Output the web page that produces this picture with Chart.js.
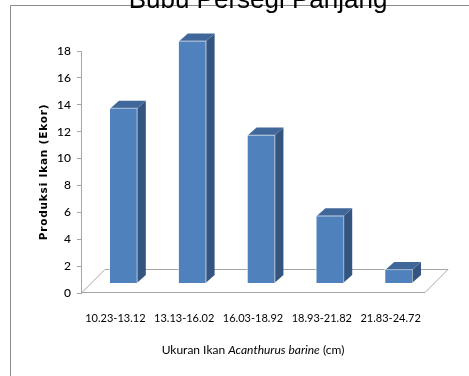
<!DOCTYPE html>
<html>
<head>
<meta charset="utf-8">
<script src="https://cdn.jsdelivr.net/npm/chart.js@4"></script>
<style>
  html, body { margin: 0; padding: 0; background: #fff; }
  #wrap { width: 469px; height: 376px; position: relative; }
</style>
</head>
<body>
<div id="wrap"><canvas id="chart" width="469" height="376"></canvas></div>
<script>
const sizeClasses = ['10.23-13.12', '13.13-16.02', '16.03-18.92', '18.93-21.82', '21.83-24.72'];
const fishCounts = [13, 18, 11, 5, 1];
const yTicks = [0, 2, 4, 6, 8, 10, 12, 14, 16, 18];

const chartTitle = 'Bubu Persegi Panjang';
const yTitle = 'Produksi Ikan (Ekor)';
const xTitleParts = [['Ukuran Ikan ', ''], ['Acanthurus barine', 'italic '], [' (cm)', '']];

// fake 3d look: floor, box bars, titles and frame
const threeD = {
  id: 'threeD',
  beforeDatasetsDraw(chart) {
    const { ctx, chartArea: a } = chart;
    const d = 23;
    ctx.save();
    ctx.strokeStyle = '#a6a6a6';
    ctx.lineWidth = 1;
    ctx.beginPath();
    ctx.moveTo(a.left + 1, a.bottom - 0.5);
    ctx.lineTo(a.left + 1 + d, a.bottom - 0.5 - d);
    ctx.lineTo(a.right + d, a.bottom - 0.5 - d);
    ctx.lineTo(a.right, a.bottom - 0.5);
    ctx.closePath();
    ctx.stroke();
    ctx.restore();
  },
  afterDatasetsDraw(chart) {
    const { ctx } = chart;
    const ox = 8, oy = -9.5, dx = 9, dy = 8;
    ctx.save();
    chart.getDatasetMeta(0).data.forEach(bar => {
      const w = bar.width;
      const l = bar.x - w / 2 + ox, r = bar.x + w / 2 + ox;
      const t = bar.y + oy, b = bar.base + oy;
      // side
      ctx.fillStyle = '#34557f';
      ctx.beginPath();
      ctx.moveTo(r, t); ctx.lineTo(r + dx, t - dy); ctx.lineTo(r + dx, b - dy); ctx.lineTo(r, b);
      ctx.closePath(); ctx.fill();
      // top
      ctx.fillStyle = '#3f679a';
      ctx.beginPath();
      ctx.moveTo(l, t); ctx.lineTo(l + dx, t - dy); ctx.lineTo(r + dx, t - dy); ctx.lineTo(r, t);
      ctx.closePath(); ctx.fill();
      // front
      ctx.fillStyle = '#4f81bd';
      ctx.fillRect(l, t, w, b - t);
      ctx.strokeStyle = 'rgba(255,255,255,0.5)';
      ctx.lineWidth = 1;
      ctx.strokeRect(l - 0.5, t - 0.5, w + 1, b - t + 1);
    });
    ctx.restore();
  },
  afterDraw(chart) {
    const { ctx } = chart;
    ctx.save();
    // outer frame
    ctx.strokeStyle = '#8c8c8c';
    ctx.lineWidth = 1;
    ctx.beginPath();
    ctx.moveTo(10.5, 380); ctx.lineTo(10.5, 5.5); ctx.lineTo(480, 5.5);
    ctx.stroke();
    // title, cut off at the top
    ctx.fillStyle = '#000';
    ctx.font = '26px "Liberation Sans", Arial, sans-serif';
    ctx.textAlign = 'center';
    ctx.textBaseline = 'alphabetic';
    ctx.fillText(chartTitle, 258, 8);
    // y title
    ctx.save();
    ctx.translate(44, 172);
    ctx.rotate(-Math.PI / 2);
    ctx.font = 'bold 10.5px "DejaVu Sans", sans-serif';
    ctx.letterSpacing = '0.8px';
    ctx.textBaseline = 'middle';
    ctx.fillText(yTitle, 0, 0);
    ctx.restore();
    // x title with italic species name
    ctx.textBaseline = 'middle';
    ctx.textAlign = 'left';
    let total = 0;
    xTitleParts.forEach(([s, st]) => { ctx.font = st + '12px Lato, sans-serif'; total += ctx.measureText(s).width; });
    let x = 253 - total / 2;
    xTitleParts.forEach(([s, st]) => {
      ctx.font = st + '12px Lato, sans-serif';
      ctx.fillText(s, x, 350);
      x += ctx.measureText(s).width;
    });
    ctx.restore();
  }
};

new Chart(document.getElementById('chart'), {
  type: 'bar',
  data: {
    labels: sizeClasses,
    datasets: [{
      data: fishCounts,
      backgroundColor: 'rgba(0,0,0,0)',
      categoryPercentage: 1,
      barPercentage: 0.39
    }]
  },
  options: {
    responsive: false,
    animation: false,
    events: [],
    layout: { padding: { left: 0, top: 51, right: 44, bottom: 0 } },
    plugins: { legend: { display: false }, tooltip: { enabled: false } },
    scales: {
      x: {
        grid: { display: false, drawTicks: false },
        border: { display: false },
        ticks: { color: '#000', font: { family: 'Lato', size: 11 }, padding: 19, maxRotation: 0 },
        afterFit: s => { s.height = 83; }
      },
      y: {
        min: 0,
        max: 18,
        afterBuildTicks: s => { s.ticks = yTicks.map(v => ({ value: v })); },
        grid: { drawOnChartArea: false, tickLength: 4, color: '#a6a6a6' },
        border: { color: '#a6a6a6' },
        ticks: { color: '#000', font: { family: 'Lato', size: 12, weight: '500' }, padding: 6 },
        afterFit: s => { s.width = 81; }
      }
    }
  },
  plugins: [threeD]
});
</script>
</body>
</html>
